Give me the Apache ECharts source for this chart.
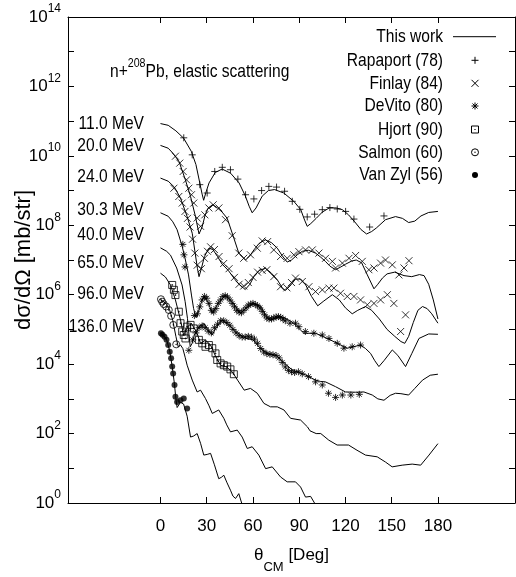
<!DOCTYPE html>
<html><head><meta charset="utf-8">
<script src="https://cdn.jsdelivr.net/npm/echarts@6/dist/echarts.min.js"></script>
<style>html,body{margin:0;padding:0;background:#fff}#c{width:516px;height:577px}</style>
</head><body><div id="c"></div>
<script>
// ---------------- data (theta in deg CM, sigma in mb/sr, offset per energy) ----------------
const theta11 = [0,5,10,15,20,23,25.5,27,28,29.5,31.5,35.5,40,45.5,51,55,57.5,59.5,62,66,70,74,80,86.5,91,93.5,95.2,97.5,101,105,109.5,114,118,122,126,130,133.7,137,140,146,152.5,157,161,165,169,174,180];
const sigma11 = [8.51e10,7.59e10,5.25e10,3.24e10,1.35e10,5.62e9,1.66e9,7.94e8,5.25e8,8.91e8,1.66e9,3.31e9,4.17e9,3.16e9,1.66e9,7.08e8,3.55e8,2.29e8,3.16e8,6.92e8,1.0e9,1.07e9,8.51e8,4.9e8,2.82e8,1.41e8,9.33e7,1.12e8,1.58e8,2.4e8,3.16e8,3.16e8,2.82e8,2.0e8,1.26e8,7.59e7,5.62e7,6.61e7,8.32e7,1.45e8,1.78e8,1.58e8,1.2e8,1.32e8,1.86e8,2.34e8,2.51e8];

const theta20 = [0,5,8,12,16,19.5,22.7,25,27,29,31,34,37,40,43.3,47.6,50.8,55.2,58,60.6,64,68,72,75.8,79,82.2,85,88.7,92,96,100.6,104,107,110,113.6,117,120.1,124,127,130.5,134.2,138.5,141,144,147,152,158,163,168,171,174,177,180];
const sigma20 = [2.0e10,1.66e10,1.2e10,6.92e9,2.14e9,6.76e8,1.78e8,5.62e7,8.91e7,2.0e8,3.16e8,3.89e8,3.16e8,2.4e8,1.58e8,4.27e7,1.58e7,1.0e7,1.32e7,1.95e7,3.02e7,3.8e7,3.16e7,2.19e7,1.32e7,8.71e6,1.0e7,1.41e7,1.78e7,1.91e7,1.58e7,1.2e7,9.12e6,6.61e6,5.25e6,6.31e6,7.59e6,9.33e6,1.0e7,8.32e6,3.72e6,1.48e6,2.0e6,3.02e6,3.98e6,4.47e6,3.55e6,3.31e6,3.8e6,3.55e6,2.0e6,7.08e5,2.0e5];

const theta24 = [0,5,9,13,17.3,20.6,22.5,24,25,26.5,28.5,31.5,34,37,40,44,47.6,51,55,58,60.6,64,68.2,72,75.8,79,81,84,87.6,91,94,98,102,106,111.5,116,120,124.4,128,133,137,142,147,152,156,158.5,161,164,167,170,173,176,180];
const sigma24 = [2.29e9,1.86e9,1.26e9,6.03e8,1.78e8,5.89e7,1.58e7,5.62e6,3.31e6,5.62e6,1.26e7,2.19e7,2.0e7,1.26e7,7.59e6,5.01e6,3.02e6,2.0e6,1.41e6,2.0e6,3.31e6,5.01e6,5.75e6,4.17e6,2.69e6,1.58e6,1.32e6,1.78e6,2.82e6,2.82e6,2.0e6,8.91e5,4.79e5,6.61e5,1.0e6,7.08e5,4.17e5,2.82e5,3.55e5,4.57e5,3.55e5,2.0e5,1.0e5,6.31e4,4.47e4,3.98e4,6.31e4,1.58e5,3.55e5,4.57e5,3.98e5,2.82e5,1.51e5];

const theta30 = [0,5,8,10.8,14.1,16.2,18.2,20.1,21.5,23,24.5,26,28.1,30.5,33.6,37.6,42.2,46.7,51.9,55.8,60.6,65,68.2,71.4,77.9,82,86.5,93,100.6,108.2,114.7,121.2,125,129.8,133,136.3,139,141.7,145,150.4,154,159,163,167.7,174,180];
const sigma30 = [2.29e8,1.82e8,1.26e8,7.41e7,2.45e7,1.0e7,3.72e6,9.77e5,3.98e5,2.24e5,3.16e5,5.25e5,8.91e5,6.61e5,2.95e5,5.75e5,9.77e5,6.17e5,2.95e5,4.17e5,5.62e5,4.57e5,2.63e5,1.86e5,2.34e5,2.0e5,1.51e5,7.76e4,7.76e4,5.5e4,3.98e4,2.88e4,3.16e4,3.55e4,2.82e4,2.04e4,1.26e4,8.51e3,1.26e4,2.57e4,1.78e4,8.51e3,2.0e4,5.5e4,7.41e4,7.24e4];

const theta40 = [0,4,6.5,10.5,14,16,17.5,18.5,19.3,20.5,22,25,28,31,33.5,36.5,40,45,50,55,60,65,70,75,80,85,87.6,94,100.6,104,107,113.6,120,126.6,132,137.4,141,145,149,152.5,156,161,165,170,175,180];
const sigma40 = [2.24e7,1.78e7,1.38e7,5.89e6,1.91e6,6.31e5,2.09e5,6.92e4,3.16e4,3.98e4,6.92e4,1.2e5,1.51e5,9.55e4,6.92e4,1.2e5,1.86e5,1.26e5,7.94e4,5.62e4,5.01e4,2.82e4,2.0e4,1.78e4,1.12e4,7.08e3,6.31e3,4.9e3,3.47e3,3.16e3,3.09e3,2.24e3,1.58e3,1.55e3,1.58e3,1.29e3,1.0e3,912,1.26e3,1.45e3,1.41e3,1.29e3,2.0e3,3.47e3,4.79e3,5.13e3];

const theta65 = [0,3.2,6.5,9.7,13,15,17.5,20,23.4,26,29.2,32.5,35.7,39,42.8,46.7,50,54.3,58.4,62.8,67.1,71.4,75.8,80.1,84.4,90.9,95.4,97,101,104,109.2,114.6,122,127.5,133,140.6,146,150.3,156.8,163.3,168.8,174.2,180];
const sigma65 = [4.17e6,3.24e6,1.91e6,7.08e5,1.86e5,6.92e4,1.17e5,1.51e5,8.32e4,3.98e4,4.9e4,3.55e4,1.7e4,9.33e3,8.32e3,5.89e3,3.47e3,1.78e3,2.0e3,1.45e3,741,589,589,479,275,245,155,120,100,100,64.6,46.8,46.8,33.1,24.0,21.4,15.1,11.0,12.3,13.2,12.3,24.0,51.3];

const theta96 = [0,2,4,6,8,10,11.5,13,14.5,16,17.3,20.6,23.8,26,29.2,31.5,33.6,37.8,41.1,43,45.4,49.8,53,56.3,59.5,63.8,68.2,72.5,77.9,82.2,87.6,90.9,94.1,97.4,100.6];
const sigma96 = [7.08e5,6.31e5,5.25e5,3.55e5,1.78e5,6.31e4,3.16e4,3.55e4,2.82e4,1.58e4,9.33e3,3.47e3,1.58e3,1.78e3,1.02e3,631,380,479,275,178,112,126,79.4,37.2,41.7,24.0,9.77,11.0,5.62,4.07,4.07,2.88,1.48,1.55,0.89];

const theta136 = [0,2,4,6,7.6,9,10,10.8,13,15,17.3,19.5,21.5,23.8,26,28.1,30.3,32.5,35,37.8,39.5,41.1,43,45.4,47,48.7,50.8,53];
const sigma136 = [7.94e4,6.76e4,5.01e4,2.4e4,8.51e3,2.82e3,1.0e3,562,794,708,316,79.4,85.1,100,52.5,24.0,25.1,26.9,12.6,5.01,5.5,6.31,3.98,2.34,1.58,1.35,1.86,0.89];

// experimental data
const thetaRap = [15.1,20.6,25.5,30.3,35.2,40.1,45.4,50.2,55.2,60.6,65.6,70.3,75.3,80.5,85.5,90.4,95.2,100,105,109.9,114.7,120.1,125.5,135.7,145];
const sigmaRap = [3.31e10,1.07e10,1.48e9,8.51e8,3.55e9,4.68e9,3.98e9,2.14e9,7.59e8,5.75e8,1.0e9,1.32e9,1.26e9,9.55e8,4.9e8,2.88e8,1.74e8,2.09e8,2.82e8,3.24e8,2.95e8,2.51e8,1.51e8,8.91e7,1.86e8];

const thetaF20 = [9.7,12.5,14.7,16.9,18.4,20.1,21.6,23.8,26,28.8,31.4,34.2,37.9,42.2,46.5,50.8,54,58.4,62.8,66,69.5,73.5,77.9,82.2,86.5,89.8,94.1,98.5,102.8,107.1,111.5,113.6,118,122.3,126.6,130.9,135.2,138.5,142.8,146,150.4,154.7,158,161.2];
const sigmaF20 = [9.77e9,6.17e9,3.55e9,2.04e9,1.17e9,7.59e8,4.37e8,1.62e8,9.33e7,2.0e8,3.16e8,3.89e8,3.16e8,1.45e8,5.01e7,1.58e7,1.12e7,1.41e7,2.19e7,3.55e7,3.39e7,1.95e7,1.26e7,1.12e7,1.41e7,1.74e7,1.95e7,1.95e7,1.58e7,1.12e7,9.12e6,5.89e6,8.13e6,1.12e7,1.35e7,9.12e6,5.25e6,5.89e6,8.13e6,1.0e7,7.24e6,3.72e6,5.89e6,9.55e6];

const thetaF24 = [8.7,11.9,14.1,15.9,17.5,19.2,20.8,22.3,23.8,26.5,28.5,30.5,32.5,35,38,41,44.5,48,51,54,57,60,63,66,69,73.5,77.9,82,85,87.6,92,96.3,100.6,105,109.3,112.5,116.8,121.2,125.5,129.8,134.2,138.5,142.8,147.2,151.4,155.8,159];
const sigmaF24 = [1.17e9,6.76e8,4.37e8,2.51e8,1.58e8,8.91e7,3.98e7,1.58e7,7.08e6,5.62e6,1.12e7,1.78e7,2.4e7,2.0e7,1.26e7,7.94e6,5.62e6,3.16e6,2.0e6,1.78e6,2.24e6,3.16e6,4.47e6,5.01e6,5.25e6,3.31e6,1.7e6,1.58e6,2.24e6,3.02e6,2.4e6,1.7e6,1.23e6,1.38e6,1.55e6,1.55e6,1.1e6,8.91e5,8.91e5,7.08e5,5.13e5,5.62e5,7.08e5,1.0e6,5.62e5,8.71e4,2.63e5];

const thetaD30 = [14.5,15.2,15.9,22,24,25.5,27,28.5,30,31.5,33,34.5,36,37.5,39,40.5,42,43.5,45,46.5,48,49.5,51,52.5,54,55.5,57,58.5,60,61.5,63,64.5,66,67.5,69,70.5,72,73.5,75,76.5,78,79.5,81,84,87.6,89.8,94,99.5,105,109.3,114.7,119,124.4,129.8];
const sigmaD30 = [2.82e7,1.41e7,6.31e6,2.51e5,2.82e5,4.47e5,7.08e5,8.91e5,7.94e5,5.62e5,3.55e5,3.16e5,3.98e5,5.62e5,7.08e5,8.91e5,9.33e5,8.51e5,7.08e5,5.62e5,4.47e5,3.55e5,3.16e5,3.02e5,3.55e5,4.17e5,5.01e5,5.37e5,5.62e5,5.25e5,4.79e5,4.17e5,3.31e5,2.63e5,2.14e5,2.0e5,2.0e5,2.14e5,2.29e5,2.34e5,2.24e5,2.0e5,1.78e5,1.51e5,1.51e5,1.2e5,8.71e4,7.76e4,6.92e4,5.5e4,3.98e4,2.88e4,3.16e4,3.55e4];

const thetaD40 = [18.4,21,23,25,27,29,31,33,35,37,39,41,43,45,47,49,51,53,55,57,59,61,63,65,67,69,71,73,75,77,79,81,83,85,87,89.5,92,96,100.6,105,109,113.6,118,123.5,129];
const sigmaD40 = [2.51e4,5.01e4,7.94e4,1.12e5,1.26e5,1.12e5,8.91e4,7.94e4,1.12e5,1.41e5,1.78e5,1.78e5,1.58e5,1.32e5,1.0e5,7.94e4,6.61e4,6.03e4,6.03e4,6.31e4,6.03e4,5.25e4,3.98e4,2.82e4,2.24e4,2.0e4,1.91e4,1.86e4,1.78e4,1.51e4,1.12e4,8.32e3,6.61e3,6.03e3,5.75e3,6.03e3,5.25e3,4.37e3,3.09e3,2.51e3,1.45e3,1.1e3,1.29e3,1.29e3,1.35e3];

const thetaHj = [7.6,8.7,9.7,11.9,13,14.1,15.1,16.2,17.3,19.5,21.6,24.9,27.1,29.2,31.4,33.6,35.7,36.8,39,41.1,43.3,45.4,47.6];
const sigmaHj = [1.91e6,1.38e6,9.77e5,3.24e5,1.51e5,8.71e4,6.92e4,5.5e4,1.2e5,1.35e5,1.07e5,5.01e4,3.98e4,3.16e4,3.55e4,2.88e4,2.04e4,1.32e4,1.05e4,9.33e3,8.51e3,7.08e3,5.13e3];

const thetaSal = [0.3,1.1,2.1,3.7,5.4,6.9,8.3,10.2];
const sigmaSal = [7.41e5,6.31e5,5.37e5,4.57e5,3.63e5,2.45e5,1.35e5,3.72e4];

const thetaVZ = [0.3,1.3,2.6,3.9,5.0,6.0,6.9,7.6,8.2,9.1,9.7,10.8,13,15.1,17.3];
const sigmaVZ = [7.76e4,7.08e4,6.17e4,5.01e4,3.55e4,2.29e4,1.48e4,8.51e3,5.37e3,2.51e3,1.15e3,813,912,1.02e3,525];

const xTickValues = [0,30,60,90,120,150,180];
const energyLabels = ['11.0 MeV','20.0 MeV','24.0 MeV','30.3 MeV','40.0 MeV','65.0 MeV','96.0 MeV','136.0 MeV'];
const legendNames = ['This work','Rapaport (78)','Finlay (84)','DeVito (80)','Hjort (90)','Salmon (60)','Van Zyl (56)'];

// ---------------- layout / style ----------------
const FONT = '"Liberation Sans",Arial,Helvetica,sans-serif';
const NARROW = 0.82;            // horizontal squeeze of the reference lettering
const energyLabelY = [124,146,176.7,210,235,262.7,294,326.7];
const legendRowY = [36.7,60.3,83.3,106,129.5,152.3,175];
const SYM = {
  plus: 'path://M0,5L10,5M5,0L5,10',
  cross: 'path://M0,0L10,10M10,0L0,10',
  star: 'path://M0,5L10,5M5,0L5,10M1.5,1.5L8.5,8.5M8.5,1.5L1.5,8.5',
  box: 'path://M0,0L10,0L10,10L0,10Z M4.4,4.4L5.6,4.4L5.6,5.6L4.4,5.6Z',
  circ: 'path://M10,5A5,5,0,1,1,0,5A5,5,0,1,1,10,5Z M5.6,5A0.6,0.6,0,1,1,4.4,5A0.6,0.6,0,1,1,5.6,5Z'
};
const pairs = (t, s) => t.map((x, i) => [x, s[i]]);

const theory = [[theta11,sigma11],[theta20,sigma20],[theta24,sigma24],[theta30,sigma30],[theta40,sigma40],[theta65,sigma65],[theta96,sigma96],[theta136,sigma136]];
const series = theory.map(([t, s]) => ({
  type: 'line', name: legendNames[0], data: pairs(t, s), symbol: 'none', showSymbol: false,
  lineStyle: {color: '#000', width: 1}, itemStyle: {color: '#000'}, z: 2, silent: true, clip: true
}));
function marks(name, t, s, symbol, size, filled) {
  return {
    type: 'scatter', name, data: pairs(t, s), symbol, symbolSize: size, z: 3, silent: true,
    itemStyle: filled ? {color: '#000'} : {color: 'rgba(0,0,0,0)', borderColor: '#000', borderWidth: 1}
  };
}
series.push(marks(legendNames[1], thetaRap, sigmaRap, SYM.plus, 7));
series.push(marks(legendNames[2], thetaF20, sigmaF20, SYM.cross, 7));
series.push(marks(legendNames[2], thetaF24, sigmaF24, SYM.cross, 7));
series.push(marks(legendNames[3], thetaD30, sigmaD30, SYM.star, 7));
series.push(marks(legendNames[3], thetaD40, sigmaD40, SYM.star, 7));
series.push(marks(legendNames[4], thetaHj, sigmaHj, SYM.box, 7));
series.push(marks(legendNames[5], thetaSal, sigmaSal, SYM.circ, 7));
series.push(marks(legendNames[6], thetaVZ, sigmaVZ, 'circle', 6, true));

// narrow text helper (graphic text squeezed horizontally like the reference)
function narrowText(text, x, y, align) {
  return {type: 'text', x, y, scaleX: NARROW, silent: true,
    style: {text, fontFamily: FONT, fontSize: 19, fill: '#000', align, verticalAlign: 'middle'}};
}
const stroke = {stroke: '#000', lineWidth: 1, fill: 'none'};
const seg = (x1, y1, x2, y2) => ({type: 'line', silent: true, shape: {x1, y1, x2, y2}, style: stroke});
// legend key samples (graphic, matching the series symbols)
function legendKey(kind, cx, cy) {
  const h = 3.5, d = 2.5;
  switch (kind) {
    case 'line': return [seg(453, cy, 496, cy)];
    case 'plus': return [seg(cx - h, cy, cx + h, cy), seg(cx, cy - h, cx, cy + h)];
    case 'cross': return [seg(cx - h, cy - h, cx + h, cy + h), seg(cx + h, cy - h, cx - h, cy + h)];
    case 'star': return [seg(cx - h, cy, cx + h, cy), seg(cx, cy - h, cx, cy + h),
                         seg(cx - d, cy - d, cx + d, cy + d), seg(cx + d, cy - d, cx - d, cy + d)];
    case 'box': return [{type: 'rect', silent: true, shape: {x: cx - h, y: cy - h, width: 7, height: 7}, style: stroke},
                        {type: 'rect', silent: true, shape: {x: cx - 0.6, y: cy - 0.6, width: 1.2, height: 1.2}, style: {fill: '#000'}}];
    case 'circ': return [{type: 'circle', silent: true, shape: {cx, cy, r: h}, style: stroke},
                         {type: 'circle', silent: true, shape: {cx, cy, r: 0.7}, style: {fill: '#000'}}];
    default: return [{type: 'circle', silent: true, shape: {cx, cy, r: 3}, style: {fill: '#000'}}];
  }
}
const LEG_TEXT_X = 443, LEG_SYM_X = 475;
const legendKinds = ['line','plus','cross','star','box','circ','dot'];
let graphics = [];
legendNames.forEach((n, i) => {
  graphics.push(narrowText(n, LEG_TEXT_X, legendRowY[i], 'right'));
  graphics = graphics.concat(legendKey(legendKinds[i], LEG_SYM_X, legendRowY[i]));
});
energyLabels.forEach((t, i) => graphics.push(narrowText(t, 144, energyLabelY[i], 'right')));
graphics.push({
  type: 'text', x: 110, y: 71.7, scaleX: NARROW, silent: true,
  style: {text: 'n+{sup|208}Pb, elastic scattering', fontFamily: FONT, fontSize: 19, lineHeight: 30, fill: '#000',
    align: 'left', verticalAlign: 'middle',
    rich: {sup: {fontFamily: FONT, fontSize: 13, lineHeight: 13, verticalAlign: 'top', fill: '#000'}}}
});

const axLine = {show: true, onZero: false, lineStyle: {color: '#000', width: 1}};
const tickStyle = {color: '#000', width: 1};
const chart = echarts.init(document.getElementById('c'));
chart.setOption({
  animation: false,
  backgroundColor: '#fff',
  grid: {left: 68, right: 1, top: 17, bottom: 74, outerBoundsMode: 'none', containLabel: false},
  xAxis: [
    {type: 'value', position: 'bottom', min: -60, max: 230, axisLine: axLine, splitLine: {show: false},
     axisTick: {inside: true, length: 6, customValues: xTickValues, lineStyle: tickStyle},
     axisLabel: {customValues: xTickValues, fontFamily: FONT, fontSize: 17, color: '#000', margin: 15},
     name: 'θ{sub|CM} [Deg]', nameLocation: 'middle', nameGap: 33, nameMoveOverlap: false,
     nameTextStyle: {fontFamily: FONT, fontSize: 17, color: '#000', lineHeight: 38,
       rich: {sub: {fontFamily: FONT, fontSize: 13, lineHeight: 13, verticalAlign: 'bottom', color: '#000'}}}},
    {type: 'value', position: 'top', min: -60, max: 230, axisLine: axLine, splitLine: {show: false},
     axisTick: {inside: true, length: 6, customValues: xTickValues, lineStyle: tickStyle},
     axisLabel: {show: false}}
  ],
  yAxis: [
    {type: 'log', logBase: 10, position: 'left', min: 1, max: 1e14, interval: 1, axisLine: axLine, splitLine: {show: false},
     axisTick: {inside: true, length: 6, lineStyle: tickStyle}, minorTick: {show: false},
     axisLabel: {fontFamily: FONT, fontSize: 17, color: '#000', margin: 7, lineHeight: 28,
       formatter: v => { const e = Math.round(Math.log10(v)); return e % 2 === 0 ? '10{s|' + e + '}' : ''; },
       rich: {s: {fontFamily: FONT, fontSize: 12, lineHeight: 12, verticalAlign: 'top', color: '#000'}}},
     name: 'dσ/dΩ [mb/str]', nameLocation: 'middle', nameGap: 33, nameMoveOverlap: false,
     nameTextStyle: {fontFamily: FONT, fontSize: 22, color: '#000'}},
    {type: 'log', logBase: 10, position: 'right', min: 1, max: 1e14, interval: 1, axisLine: axLine, splitLine: {show: false},
     axisTick: {inside: true, length: 6, lineStyle: tickStyle}, axisLabel: {show: false}}
  ],
  graphic: graphics,
  series
});
</script></body></html>
